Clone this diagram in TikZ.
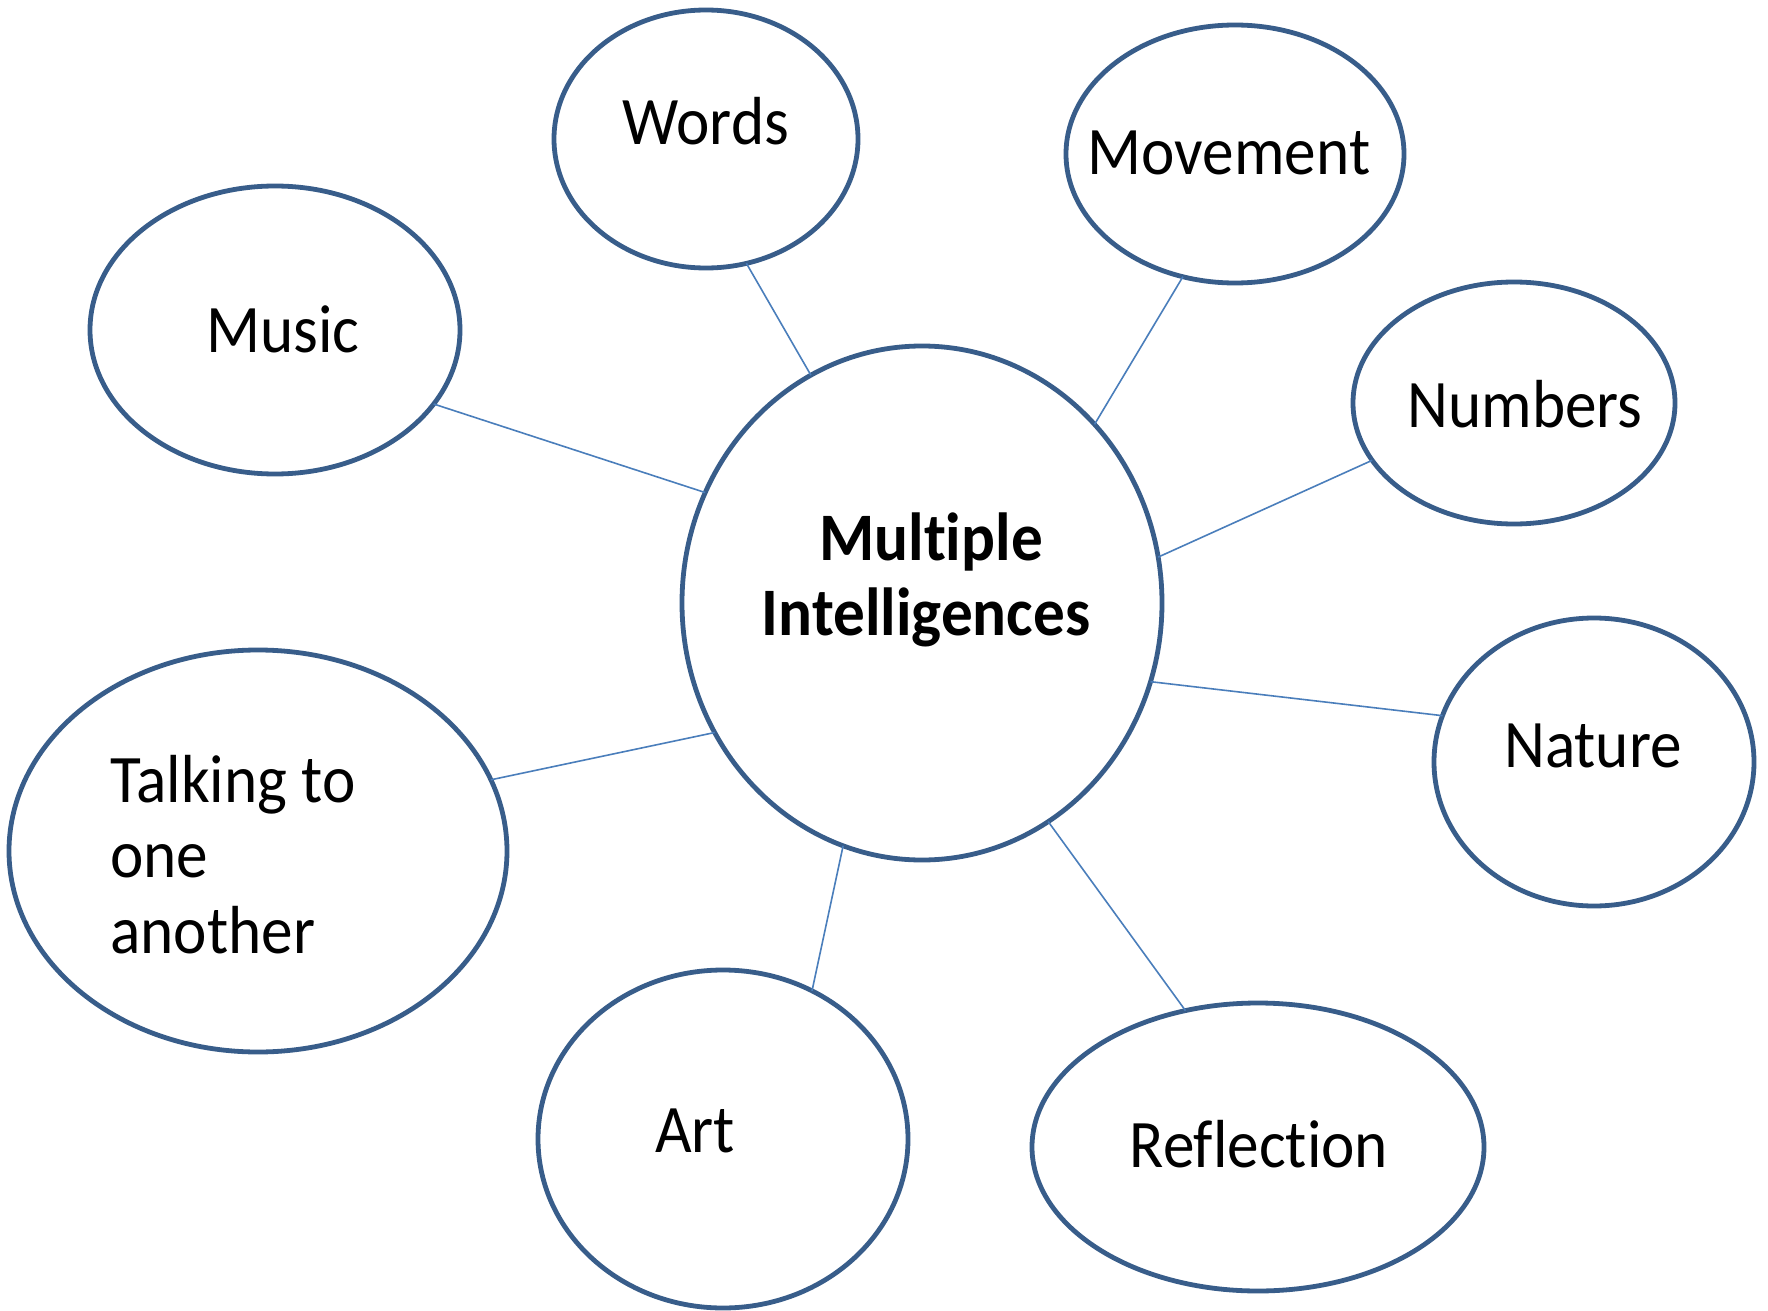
\documentclass[tikz,border=0pt]{standalone}
\usepackage{fontspec}
\setmainfont{Carlito}[FakeStretch=0.93, Ligatures=NoCommon, RawFeature={-liga;-clig;-dlig}]
\usetikzlibrary{shapes.geometric}
\definecolor{shapeblue}{HTML}{385D8A}
\definecolor{lineblue}{HTML}{4A7EBB}
\begin{document}
\begin{tikzpicture}[x=0.5pt,y=-0.5pt,
  bubble/.style={ellipse, draw=shapeblue, line width=2.4pt, inner sep=0pt, outer sep=0pt, fill=white},
  link/.style={draw=lineblue, line width=0.8pt},
  lbl/.style={anchor=base, inner sep=0pt, font=\fontsize{34}{38}\selectfont},
  lblw/.style={anchor=base west, inner sep=0pt, font=\fontsize{34}{38}\selectfont}]
\useasboundingbox[fill=white] (0,0) rectangle (1768,1311);
% ellipses
\node[bubble, minimum width=240pt, minimum height=257pt] (mi) at (922,603) {};
\node[bubble, minimum width=152pt, minimum height=129pt] (words) at (706,139) {};
\node[bubble, minimum width=169pt, minimum height=129pt] (movement) at (1235,154) {};
\node[bubble, minimum width=185pt, minimum height=144pt] (music) at (275,330) {};
\node[bubble, minimum width=161pt, minimum height=121pt] (numbers) at (1514,403) {};
\node[bubble, minimum width=160pt, minimum height=144pt] (nature) at (1594,762) {};
\node[bubble, minimum width=249pt, minimum height=201pt] (talking) at (258,851) {};
\node[bubble, minimum width=185pt, minimum height=169pt] (art) at (723,1139) {};
\node[bubble, minimum width=226pt, minimum height=144pt] (reflection) at (1258,1147) {};
% labels
\node[lbl, font=\fontsize{34}{38}\selectfont\bfseries] (mi1) at (931,560) {Multiple};
\node[lbl, font=\fontsize{34}{38}\selectfont\bfseries] (mi2) at (926,635) {Intelligences};
\node[lbl] (wordsL) at (706,145) {Words};
\node[lbl] (movementL) at (1229,175) {Movement};
\node[lbl] (musicL) at (283,352) {Music};
\node[lbl] (numbersL) at (1525,427) {Numbers};
\node[lbl] (natureL) at (1593,767) {Nature};
\node[lbl] (reflectionL) at (1259,1167) {Reflection};
\node[lbl] (artL) at (695,1152) {Art};
\node[lblw] (talkingL1) at (110,802) {Talking to};
\node[lblw] (talkingL2) at (110,877) {one};
\node[lblw] (talkingL3) at (110,953) {another};
% connectors
\draw[link] (mi.116.5) -- (words.-72.6);
\draw[link] (mi.153.4) -- (music.-25.5);
\draw[link] (mi.46.6) -- (movement.-113.8);
\draw[link] (mi.11.3) -- (numbers.-158.6);
\draw[link] (mi.-19.1) -- (nature.163.3);
\draw[link] (mi.-60.1) -- (reflection.118.7);
\draw[link] (mi.-108.4) -- (art.59.5);
\draw[link] (mi.-148.3) -- (talking.17.3);
\end{tikzpicture}
\end{document}
